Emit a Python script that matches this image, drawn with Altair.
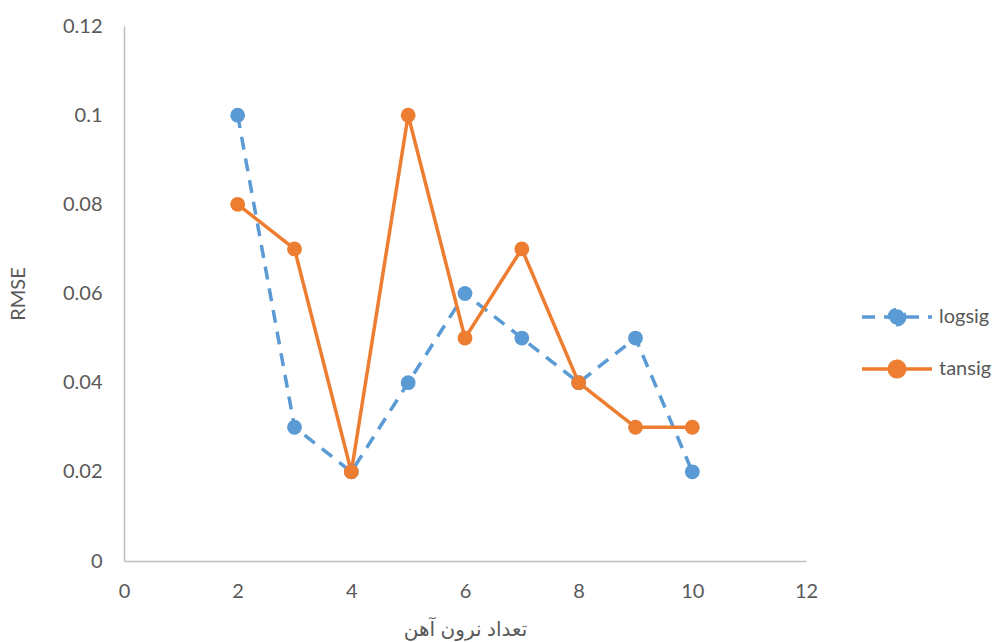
import altair as alt
import pandas as pd

neurons = [2, 3, 4, 5, 6, 7, 8, 9, 10]
logsig = [0.10, 0.03, 0.02, 0.04, 0.06, 0.05, 0.04, 0.05, 0.02]
tansig = [0.08, 0.07, 0.02, 0.10, 0.05, 0.07, 0.04, 0.03, 0.03]
series_names = ["logsig", "tansig"]
colors = ["#5B9BD5", "#ED7D31"]
dashes = [[13, 9], [1, 0]]

rows = []
for n, a, b in zip(neurons, logsig, tansig):
    rows.append({"n": n, "rmse": a, "series": "logsig"})
    rows.append({"n": n, "rmse": b, "series": "tansig"})
df = pd.DataFrame(rows)

FONT = "Lato, Noto Sans, DejaVu Sans"
TFONT = "Liberation Sans, DejaVu Sans"
TXT = "#595959"

sym_path = ("M-1,0H1M0.22,0A0.22,0.22,0,1,1,-0.22,0"
            "A0.22,0.22,0,1,1,0.22,0Z")

color_scale = alt.Scale(domain=series_names, range=colors)
dash_scale = alt.Scale(domain=series_names, range=dashes)

legend = alt.Legend(
    title=None, orient="none", legendX=736, legendY=254,
    symbolType=sym_path, symbolSize=4900, symbolStrokeWidth=3.5,
    labelFont=FONT, labelFontSize=20, labelColor=TXT, labelOffset=5,
    rowPadding=-32, padding=0,
)

x = alt.X("n:Q", scale=alt.Scale(domain=[0, 12], nice=False),
          axis=alt.Axis(values=[0, 2, 4, 6, 8, 10, 12], title="تعداد نرون آهن",
                        grid=False, ticks=False, domainColor="#BFBFBF", domainWidth=1.5,
                        labelFlush=False,
                        labelFont=FONT, labelFontSize=20, labelColor=TXT, labelPadding=20,
                        titleFont=TFONT, titleFontSize=20, titleColor=TXT, titleFontWeight="normal",
                        titlePadding=18))
y = alt.Y("rmse:Q", scale=alt.Scale(domain=[0, 0.12], nice=False),
          axis=alt.Axis(values=[0, 0.02, 0.04, 0.06, 0.08, 0.1, 0.12], title="RMSE",
                        format=".2~f", grid=False, ticks=False, domainColor="#BFBFBF", domainWidth=1.5,
                        labelFlush=False,
                        labelFont=FONT, labelFontSize=20, labelColor=TXT, labelPadding=22,
                        titleFont=FONT, titleFontSize=20, titleColor=TXT, titleFontWeight="normal",
                        titlePadding=34))

base = alt.Chart(df)
lines = base.mark_line(strokeWidth=3.5).encode(
    x=x, y=y,
    color=alt.Color("series:N", scale=color_scale, legend=legend),
    strokeDash=alt.StrokeDash("series:N", scale=dash_scale, legend=legend),
)
points = base.mark_point(filled=True, size=220, opacity=1, shape="circle").encode(
    x=x, y=y,
    color=alt.Color("series:N", scale=color_scale, legend=legend),
)

chart = alt.layer(lines, points).properties(
    width=682, height=535,
    autosize=alt.AutoSizeParams(type="none"),
    padding={"left": 124, "top": 26, "right": 191, "bottom": 81},
).configure_view(stroke=None)

chart.save("out.html", embed_options={"renderer": "svg", "actions": False})
